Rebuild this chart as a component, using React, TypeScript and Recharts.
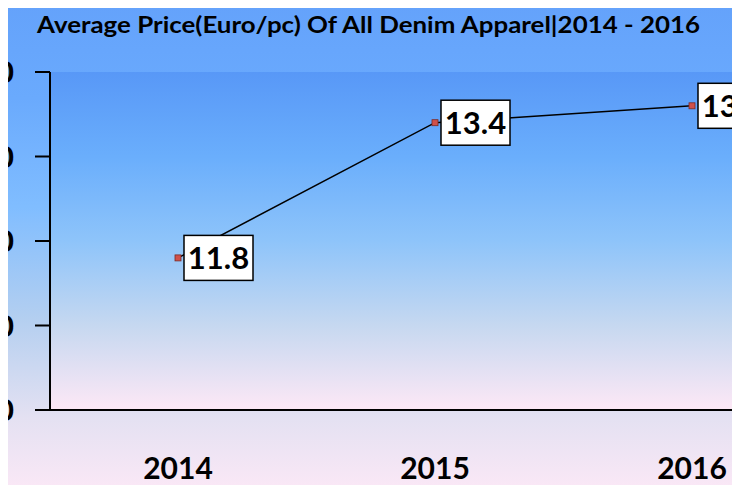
import React from "react";
import {
  CartesianGrid,
  LabelList,
  Line,
  LineChart,
  XAxis,
  YAxis,
} from "recharts";

const years = ["2014", "2015", "2016"];
const prices = [11.8, 13.4, 13.6];
const yTicks = [10, 11, 12, 13, 14];

const data = years.map((year, i) => ({ year, price: prices[i] }));

const FONT = "Lato, 'Open Sans', sans-serif";

const SquareDot = (props: any) => {
  const { cx, cy } = props;
  if (cx == null || cy == null) return null;
  return (
    <rect
      x={cx - 3}
      y={cy - 3}
      width={6}
      height={6}
      fill="#d0504a"
      stroke="#7a2a26"
      strokeWidth={0.8}
    />
  );
};

const PriceLabel = (props: any) => {
  const { x, y, value } = props;
  if (x == null || y == null) return null;
  const w = 69;
  const h = 45;
  return (
    <g>
      <rect
        x={x + 6}
        y={y - h / 2}
        width={w}
        height={h}
        fill="#ffffff"
        stroke="#000000"
        strokeWidth={1.5}
      />
      <text
        x={x + 6 + w / 2}
        y={y + 11}
        textAnchor="middle"
        fontFamily={FONT}
        fontWeight={700}
        fontSize={31}
        fill="#000000"
      >
        {value.toFixed(1)}
      </text>
    </g>
  );
};

const YearTick = (props: any) => {
  const { x, y, payload } = props;
  return (
    <text
      x={x}
      y={y + 61}
      textAnchor="middle"
      fontFamily={FONT}
      fontWeight={700}
      fontSize={30}
      fill="#000000"
    >
      {payload.value}
    </text>
  );
};

const PriceTick = (props: any) => {
  const { x, y, payload } = props;
  return (
    <text
      x={x - 19}
      y={y + 11}
      textAnchor="end"
      fontFamily={FONT}
      fontWeight={700}
      fontSize={31}
      fill="#000000"
    >
      {payload.value.toFixed(1)}
    </text>
  );
};

export default function App() {
  return (
    <div
      style={{
        margin: -8,
        width: 740,
        height: 493,
        position: "relative",
        overflow: "hidden",
        background: "#ffffff",
      }}
    >
      <div
        style={{
          position: "absolute",
          left: 0,
          top: 0,
          width: 740,
          height: 492,
          borderTop: "1px solid #c8c8c8",
          borderBottom: "1px solid #c8c8c8",
          boxSizing: "border-box",
          background:
            "linear-gradient(to bottom, #64a2fb 0%, #6aaafd 20%, #80bdff 42%, #b4cff0 65%, #e4e1f2 85%, #fbe8f6 100%)",
        }}
      />
      <svg
        width={740}
        height={60}
        style={{ position: "absolute", left: 0, top: 0 }}
      >
        <text
          x={37}
          y={33}
          textLength={663}
          lengthAdjust="spacingAndGlyphs"
          fontFamily={FONT}
          fontWeight={700}
          fontSize={22}
          fill="#000000"
        >
          Average Price(Euro/pc) Of All Denim Apparel|2014 - 2016
        </text>
      </svg>
      <div style={{ position: "absolute", left: 0, top: 0 }}>
        <LineChart
          width={830}
          height={490}
          data={data}
          margin={{ top: 72, right: 10, bottom: 0, left: 0 }}
        >
          <defs>
            <linearGradient id="plotBg" x1="0" y1="0" x2="0" y2="1">
              <stop offset="0%" stopColor="#5898f7" />
              <stop offset="25%" stopColor="#6aaefc" />
              <stop offset="50%" stopColor="#8ec4fa" />
              <stop offset="75%" stopColor="#c6d8f0" />
              <stop offset="100%" stopColor="#fde8f6" />
            </linearGradient>
          </defs>
          <CartesianGrid
            fill="url(#plotBg)"
            horizontal={false}
            vertical={false}
          />
          <XAxis
            dataKey="year"
            padding={{ left: 128, right: 128 }}
            axisLine={{ stroke: "#000000", strokeWidth: 2 }}
            tickLine={false}
            tick={<YearTick />}
            height={80}
          />
          <YAxis
            domain={[10, 14]}
            ticks={yTicks}
            width={50}
            tickSize={15}
            axisLine={{ stroke: "#000000", strokeWidth: 2 }}
            tickLine={{ stroke: "#000000", strokeWidth: 2 }}
            tick={<PriceTick />}
          />
          <Line
            dataKey="price"
            stroke="#000000"
            strokeWidth={1.5}
            dot={<SquareDot />}
            activeDot={false}
            isAnimationActive={false}
          >
            <LabelList dataKey="price" content={<PriceLabel />} />
          </Line>
        </LineChart>
      </div>
    </div>
  );
}
